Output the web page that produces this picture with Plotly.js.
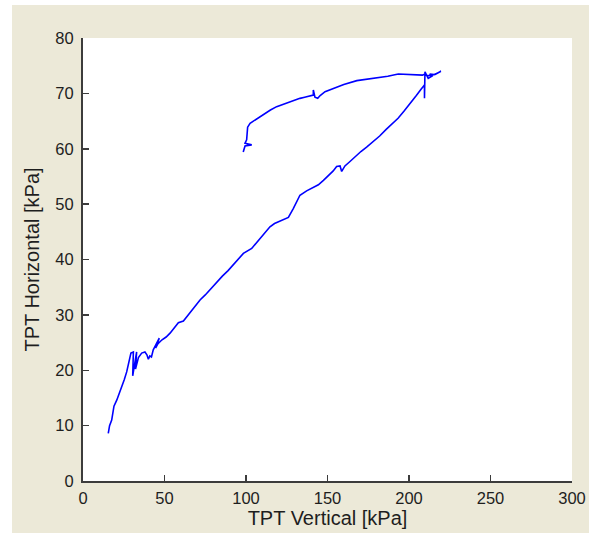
<!DOCTYPE html>
<html>
<head>
<meta charset="utf-8">
<script src="https://cdn.plot.ly/plotly-3.0.1.min.js"></script>
<style>
  html, body { margin: 0; padding: 0; background: #ffffff; width: 589px; height: 533px; overflow: hidden; }
  #chart { position: absolute; left: 12px; top: 5px; width: 577px; height: 528px; }
</style>
</head>
<body>
<div id="chart"></div>
<script>
// TPT Vertical [kPa]
const tptVertical = [
  15.5, 16.3, 17.6, 19.0, 20.7, 22.2, 23.7, 25.3, 26.8, 28.2, 29.4, 30.9, 30.5, 32.9, 32.2, 34.0,
  36.0, 38.0, 39.2, 40.1, 41.0, 42.0, 43.1, 44.5, 46.8, 44.5, 46.0, 48.5, 51.0, 53.4, 56.0, 58.5,
  61.6, 63.5, 65.6, 68.5, 71.8, 75.0, 78.5, 82.0, 85.5, 89.0, 92.2, 95.5, 98.4, 103.5, 107.0, 110.5,
  114.7, 117.5, 120.9, 126.0, 129.0, 133.1, 137.2, 141.0, 144.4, 147.5, 150.5, 153.5, 155.6, 157.7,
  158.7, 160.7, 163.8, 167.0, 170.5, 174.0, 178.0, 182.0, 186.0, 190.0, 193.3, 197.0, 201.0, 204.5,
  207.5, 209.5, 209.5, 209.8, 211.8, 214.1, 212.7, 215.5, 217.6, 219.6, 216.0, 212.0, 209.0, 208.3,
  200.0, 193.4, 187.0, 181.8, 175.0, 168.0, 160.0, 153.6, 148.5, 145.5, 144.0, 142.3, 141.3, 141.3,
  139.3, 136.0, 133.1, 127.0, 124.2, 118.8, 115.0, 110.6, 106.0, 102.5, 101.0, 100.6, 100.4, 99.4,
  103.5, 99.4, 98.3
];
// TPT Horizontal [kPa]
const tptHorizontal = [
  8.6, 10.0, 11.0, 13.5, 14.6, 15.8, 16.8, 18.3, 19.7, 21.5, 23.1, 23.3, 19.0, 23.3, 20.2, 22.3,
  23.1, 23.3, 22.8, 22.0, 22.6, 22.4, 23.7, 24.5, 25.8, 24.0, 24.8, 25.5, 26.0, 26.7, 27.6, 28.6,
  28.9, 29.6, 30.3, 31.5, 32.7, 33.6, 34.8, 36.0, 37.0, 38.0, 39.0, 40.2, 41.1, 42.0, 43.2, 44.5,
  45.9, 46.5, 47.0, 47.6, 49.2, 51.6, 52.4, 53.0, 53.5, 54.3, 55.1, 56.0, 56.8, 56.9,
  55.9, 56.9, 57.7, 58.6, 59.5, 60.3, 61.3, 62.3, 63.5, 64.6, 65.5, 66.8, 68.2, 69.6,
  70.8, 71.5, 69.1, 73.9, 72.7, 73.1, 73.5, 73.4, 73.7, 74.0, 73.4, 73.2, 73.4, 73.3,
  73.4, 73.5, 73.1, 72.9, 72.6, 72.3, 71.6, 70.9, 70.3, 69.6, 69.1, 69.3, 70.6, 69.7,
  69.5, 69.3, 69.1, 68.5, 68.2, 67.6, 67.0, 66.1, 65.3, 64.6, 63.9, 62.5, 61.6, 61.0,
  60.7, 60.5, 59.4
];
const xTicks = [0, 50, 100, 150, 200, 250, 300];
const yTicks = [0, 10, 20, 30, 40, 50, 60, 70, 80];
const xLabel = 'TPT Vertical [kPa]';
const yLabel = 'TPT Horizontal [kPa]';

const axisColor = '#3c3c3c';
const tickFont = {family: 'Liberation Sans, Arial, sans-serif', size: 16.5, color: '#1e1e1e'};
const titleFont = {family: 'Liberation Sans, Arial, sans-serif', size: 20, color: '#1e1e1e'};

const trace = {
  x: tptVertical,
  y: tptHorizontal,
  type: 'scatter',
  mode: 'lines',
  line: {color: '#0000ff', width: 1.6},
  hoverinfo: 'skip'
};

const layout = {
  width: 577,
  height: 528,
  margin: {l: 71, r: 17, t: 33, b: 52, pad: 0},
  paper_bgcolor: '#ece9d8',
  plot_bgcolor: '#ffffff',
  showlegend: false,
  xaxis: {
    range: [0, 300],
    tickvals: xTicks,
    ticktext: xTicks.map(String),
    ticks: 'inside',
    ticklen: 6,
    tickwidth: 1.5,
    tickcolor: axisColor,
    showline: true,
    linecolor: axisColor,
    linewidth: 2,
    mirror: false,
    showgrid: false,
    zeroline: false,
    tickfont: tickFont,
    ticklabelstandoff: 1,
    title: {text: xLabel, font: titleFont, standoff: 4},
    automargin: false
  },
  yaxis: {
    range: [0, 80],
    tickvals: yTicks,
    ticktext: yTicks.map(String),
    ticks: 'inside',
    ticklen: 6,
    tickwidth: 1.5,
    tickcolor: axisColor,
    showline: true,
    linecolor: axisColor,
    linewidth: 2,
    mirror: false,
    showgrid: false,
    zeroline: false,
    tickfont: tickFont,
    ticklabelstandoff: 4,
    title: {text: yLabel, font: titleFont, standoff: 10},
    automargin: false
  }
};

Plotly.newPlot('chart', [trace], layout, {staticPlot: true, displayModeBar: false});
</script>
</body>
</html>
